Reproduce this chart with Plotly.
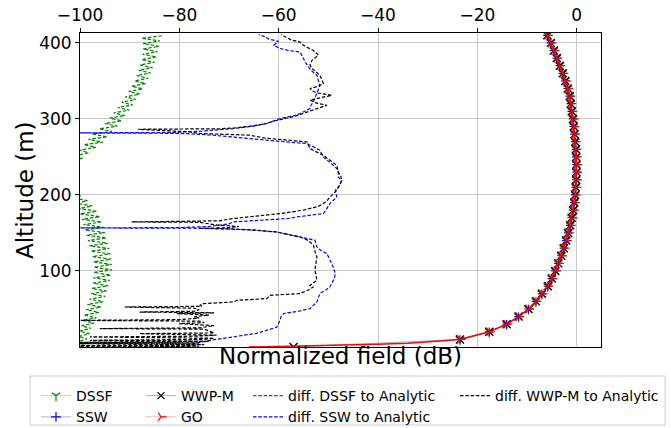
import numpy as np
import plotly.graph_objects as go

# ---------------- data ----------------
# main normalized field curves (dB) at 10 m steps
field_alt = [10, 20, 30, 40, 50, 60, 70, 80, 90, 100, 110, 120, 130, 140, 150, 160, 170, 180,
             190, 200, 210, 220, 230, 240, 250, 260, 270, 280, 290, 300, 310, 320, 330, 340,
             350, 360, 370, 380, 390, 400, 410]
field_db = [-23.5, -17.6, -14.1, -11.7, -9.7, -8.2, -7.0, -5.8, -5.0, -4.3, -3.7, -3.1, -2.6,
            -2.1, -1.7, -1.3, -1.0, -0.7, -0.5, -0.3, -0.2, -0.1, -0.05, -0.05, -0.1, -0.15,
            -0.3, -0.45, -0.6, -0.75, -1.0, -1.2, -1.4, -1.8, -2.3, -2.8, -3.4, -4.0, -4.6,
            -5.2, -5.9]
dssf_db = list(field_db)
ssw_db = list(field_db)
wwp_alt = [0] + field_alt
wwp_db = [-57.0] + field_db
go_line_alt = [0, 0.6, 1.3, 2.3, 3.5, 5, 7] + field_alt
go_line_db = [-66, -60, -53, -46, -40, -34, -29.5] + field_db

# diff. DSSF to Analytic (rapid oscillation, two altitude bands)
dssf_diff_alt_low = np.arange(0, 200, 3.5)
dssf_diff_low = [-100.5, -99.3, -100.5, -98.6, -100.3, -98.1, -100.1, -97.8, -99.7, -97.2,
                 -99.5, -96.7, -99.2, -96.2, -98.8, -95.8, -98.5, -95.3, -98.1, -94.9,
                 -97.8, -94.6, -97.6, -94.3, -97.4, -94.0, -97.3, -93.8, -97.2, -93.6,
                 -97.2, -93.6, -97.3, -93.7, -97.5, -93.9, -97.8, -94.1, -98.1, -94.4,
                 -98.4, -94.7, -98.7, -95.0, -99.0, -95.3, -99.3, -95.6, -99.6, -96.0,
                 -100.0, -96.6, -100.3, -97.5, -100.6, -98.5, -101.0, -99.6]
dssf_diff_alt_high = np.arange(245, 410, 3.5)
dssf_diff_high = [-101.0, -99.5, -100.5, -98.3, -100.1, -96.8, -99.2, -95.4, -98.3, -94.5,
                  -97.5, -93.6, -96.1, -92.5, -95.0, -91.6, -94.0, -90.9, -93.2, -90.1,
                  -92.4, -89.4, -91.6, -88.7, -90.9, -88.0, -90.2, -87.4, -89.6, -86.8,
                  -89.0, -86.3, -88.6, -85.8, -88.2, -85.4, -87.9, -85.0, -87.6, -84.6,
                  -87.4, -84.4, -87.3, -84.1, -87.3, -83.9, -87.6, -83.3]

# diff. SSW to Analytic
ssw_diff_alt = [1, 2.5, 4.5, 7, 8.8, 11, 13.2, 15, 18, 22, 26, 30.8, 35, 40, 44, 47, 50.5, 55,
                59.2, 65, 70.3, 75, 79, 85, 90, 96.6, 101, 105, 112, 118, 122.9, 127, 131.6,
                136, 140.4, 144.7, 148, 151.3, 154, 155.5, 156.3, 156.6, 157.0, 158.5, 160,
                162, 164.5, 166.7, 169, 171, 175.5, 180, 188.7, 197, 206, 212, 219, 223.7,
                232.5, 239, 245, 250, 258.8, 263, 267.6, 269.7, 272, 276.3, 279, 281, 281.6,
                282.2, 283.8, 287.3, 290.5, 294, 297, 300.5, 304, 307, 313.7, 318, 322.4, 329,
                335.5, 340, 344, 350, 357.5, 364, 370.7, 375, 379.5, 384, 388, 390, 392.6,
                397, 402, 405, 408, 411]
ssw_diff = [-86, -81, -77, -75, -73.8, -71.5, -69.1, -67, -64.5, -62.4, -60.4, -60, -59.7,
            -59.5, -59, -56, -53.7, -53, -52.3, -52, -51.7, -50.5, -49.7, -49.2, -48.8, -48.6,
            -48.8, -49, -49.5, -50, -50.3, -51.5, -52.3, -52.5, -52.7, -55.7, -58, -60.4, -66,
            -70, -78, -101, -80, -74, -72, -70, -69.2, -62.4, -58, -56.4, -51, -50.5, -49.7,
            -48.3, -48.6, -47.8, -47.3, -48, -48, -49, -50, -51, -51.7, -53, -54.3, -58.4,
            -62.4, -69.1, -74, -80, -101, -82, -75.8, -69.1, -65, -62.4, -61, -59.7, -57,
            -55.7, -53.7, -53.5, -53, -52.6, -52.3, -52, -51.7, -52, -52.3, -53.5, -54.3,
            -54.7, -55, -55.3, -55.7, -58, -59.7, -61, -60, -62, -62.7, -64]

# diff. WWP-M to Analytic
wwp_diff_alt = [0.3, 1.0, 1.8, 3.0, 4.5, 5.3, 6.2, 7.5, 8.8, 10, 11.5, 13.2, 14.2, 15.5, 17.6,
                18.5, 21, 23.5, 24.2, 25.2, 28, 30.8, 32, 34, 35, 36, 38, 40, 42, 44, 45, 46,
                47, 49, 51, 52.6, 53.5, 54.9, 57, 59.2, 61.4, 63.7, 68, 70.3, 75, 79, 81, 87.8,
                95, 101, 110, 118.4, 126, 133.8, 140, 144.7, 151.3, 154, 155.5, 156, 157,
                158.5, 160, 162, 164, 164.5, 165, 166, 169, 172, 175.5, 180, 185, 188.7, 193,
                197, 206, 212, 219, 225, 230, 239, 245, 252, 257, 261, 265, 269.7, 272, 275,
                278.6, 280.8, 283, 286.4, 287, 288, 291, 294, 297, 300.5, 304, 309, 313, 318,
                321, 324.6, 328, 331, 334, 336, 340, 343, 346.6, 350, 354, 357.5, 362, 366,
                370.7, 374, 377, 380, 383.8, 387, 390, 395, 398, 401, 404, 408, 411]
wwp_diff = [-101, -76, -101, -75, -100.5, -76, -100, -74, -98, -75, -73, -98, -77, -72.5, -88,
            -73, -74, -75, -96, -76, -73, -80, -75, -76, -101, -80, -76, -77, -74, -80.5, -73,
            -88, -77, -76, -77, -91, -75.5, -75.8, -75.2, -69.1, -68.4, -62.4, -61.7, -55.7,
            -54, -53, -53.7, -52.3, -52.5, -52.7, -52.5, -52.3, -52.7, -53, -54, -55.7, -60.4,
            -65, -72, -76, -70, -68, -72, -74, -76, -89.6, -76, -72, -69.1, -64, -59.7, -55,
            -52, -51, -50.2, -49.7, -48.3, -47.8, -47.3, -47.5, -48, -48.3, -49.5, -51, -52.5,
            -53.7, -54, -54.3, -58, -63, -65.8, -75.8, -78, -88.3, -72, -69.1, -65, -62.4,
            -61, -59, -56.5, -54.3, -52.3, -50.3, -52.5, -53.7, -51.5, -49.3, -52, -53, -53.7,
            -52, -51, -51.2, -51.5, -51.7, -52.5, -53.2, -53.7, -53.5, -53.3, -52.7, -52,
            -52.5, -53, -54.5, -55.3, -55.7, -57.5, -58.7, -59.5]

x_ticks = [-100, -80, -60, -40, -20, 0]
x_tick_labels = ["\u2212100", "\u221280", "\u221260", "\u221240", "\u221220", "0"]
y_ticks = [100, 200, 300, 400]

# ---------------- figure ----------------
W, H = 671, 428
L, R, T, B = 80, 601, 33, 347
pw, ph = R - L, B - T


def px_x(p):
    return (p - L) / pw


def px_y(p):
    return (B - p) / ph


GREEN = "rgb(0,128,0)"
BLUE = "rgb(0,0,255)"
RED = "rgb(255,0,0)"
DASH = "3.5px,1.8px"

fig = go.Figure()

# diff curves
dssf_x = list(dssf_diff_low) + [None] + list(dssf_diff_high)
dssf_y = list(dssf_diff_alt_low) + [None] + list(dssf_diff_alt_high)
fig.add_trace(go.Scatter(x=dssf_x, y=dssf_y, mode="lines", showlegend=False,
                         line=dict(color=GREEN, width=1.2, dash=DASH)))
fig.add_trace(go.Scatter(x=ssw_diff, y=ssw_diff_alt, mode="lines", showlegend=False,
                         line=dict(color=BLUE, width=1.2, dash=DASH)))
fig.add_trace(go.Scatter(x=wwp_diff, y=wwp_diff_alt, mode="lines", showlegend=False,
                         line=dict(color="black", width=1.2, dash=DASH)))

# main field curves
fig.add_trace(go.Scatter(x=dssf_db, y=field_alt, mode="lines+markers", showlegend=False,
                         line=dict(color="rgba(0,128,0,0.3)", width=1),
                         marker=dict(symbol="y-down", size=7, color=GREEN,
                                     line=dict(color=GREEN, width=1.2))))
fig.add_trace(go.Scatter(x=ssw_db, y=field_alt, mode="lines+markers", showlegend=False,
                         line=dict(color="rgba(0,0,255,0.3)", width=1),
                         marker=dict(symbol="cross-thin", size=6, color=BLUE,
                                     line=dict(color=BLUE, width=1.2))))
fig.add_trace(go.Scatter(x=wwp_db, y=wwp_alt, mode="lines+markers", showlegend=False,
                         line=dict(color="rgba(0,0,0,0.3)", width=1),
                         marker=dict(symbol="x-thin", size=8, color="black",
                                     line=dict(color="black", width=1.4))))
fig.add_trace(go.Scatter(x=go_line_db, y=go_line_alt, mode="lines", showlegend=False,
                         line=dict(color=RED, width=1.5)))
fig.add_trace(go.Scatter(x=field_db, y=field_alt, mode="markers", showlegend=False,
                         marker=dict(symbol="y-right", size=7, color=RED,
                                     line=dict(color=RED, width=1.3))))

# legend entries (four columns)
legend_items = [
    ("DSSF", "legend", dict(color="rgba(0,128,0,0.3)", width=1), dict(symbol="y-down", size=7, color=GREEN, line=dict(color=GREEN, width=1.2)), "lines+markers"),
    ("SSW", "legend", dict(color="rgba(0,0,255,0.3)", width=1), dict(symbol="cross-thin", size=7, color=BLUE, line=dict(color=BLUE, width=1.2)), "lines+markers"),
    ("WWP-M", "legend2", dict(color="rgba(0,0,0,0.3)", width=1), dict(symbol="x-thin", size=7, color="black", line=dict(color="black", width=1.2)), "lines+markers"),
    ("GO", "legend2", dict(color="rgba(255,0,0,0.3)", width=1), dict(symbol="y-right", size=7, color=RED, line=dict(color=RED, width=1.2)), "lines+markers"),
    ("diff. DSSF to Analytic", "legend3", dict(color=GREEN, width=1.2, dash=DASH), None, "lines"),
    ("diff. SSW to Analytic", "legend3", dict(color=BLUE, width=1.2, dash=DASH), None, "lines"),
    ("diff. WWP-M to Analytic", "legend4", dict(color="black", width=1.2, dash=DASH), None, "lines"),
]
for name, lg, ln, mk, mode in legend_items:
    kw = dict(x=[None], y=[None], mode=mode, name=name, legend=lg, line=ln, showlegend=True)
    if mk is not None:
        kw["marker"] = mk
    fig.add_trace(go.Scatter(**kw))

FONT = "DejaVu Sans"
leg_common = dict(bgcolor="rgba(0,0,0,0)", borderwidth=0, font=dict(family=FONT, size=14, color="black"),
                  orientation="v", xanchor="left", yanchor="top", tracegroupgap=0,
                  itemwidth=30, y=px_y(380))
layout_legends = {}
for key, left_px in [("legend", 36), ("legend2", 141), ("legend3", 248), ("legend4", 455)]:
    d = dict(leg_common)
    d["x"] = px_x(left_px)
    layout_legends[key] = d

fig.update_layout(
    width=W, height=H,
    margin=dict(l=L, r=W - R, t=T, b=H - B, autoexpand=False),
    paper_bgcolor="white", plot_bgcolor="white",
    font=dict(family=FONT, color="black"),
    **layout_legends,
    xaxis=dict(range=[-100, 4.9], side="top", tickvals=x_ticks, ticktext=x_tick_labels,
               ticks="outside", ticklen=4, tickwidth=1, tickcolor="black",
               tickfont=dict(family=FONT, size=17, color="black"),
               showline=True, linecolor="black", linewidth=1, mirror=True,
               showgrid=True, gridcolor="#c8c8c8", gridwidth=1.2, zeroline=False),
    yaxis=dict(range=[0, 413], tickvals=y_ticks,
               ticks="outside", ticklen=4, tickwidth=1, tickcolor="black",
               tickfont=dict(family=FONT, size=17, color="black"),
               showline=True, linecolor="black", linewidth=1, mirror=True,
               showgrid=True, gridcolor="#c8c8c8", gridwidth=1.2, zeroline=False),
    shapes=[dict(type="rect", xref="paper", yref="paper",
                 x0=px_x(30), x1=px_x(665), y0=px_y(425), y1=px_y(376),
                 line=dict(color="#cccccc", width=1), fillcolor="rgba(255,255,255,0.8)",
                 layer="below")],
    annotations=[
        dict(text="Normalized field (dB)", xref="paper", yref="paper", x=0.5, y=0,
             xanchor="center", yanchor="middle", yshift=-9, showarrow=False,
             font=dict(family=FONT, size=23, color="black")),
        dict(text="Altitude (m)", xref="paper", yref="paper", x=px_x(25), y=0.5,
             xanchor="center", yanchor="middle", textangle=-90, showarrow=False,
             font=dict(family=FONT, size=23, color="black")),
    ],
)

fig.write_html("out.html", config={"displayModeBar": False},
               post_script="document.body.style.margin='0px';document.body.style.padding='0px';")
